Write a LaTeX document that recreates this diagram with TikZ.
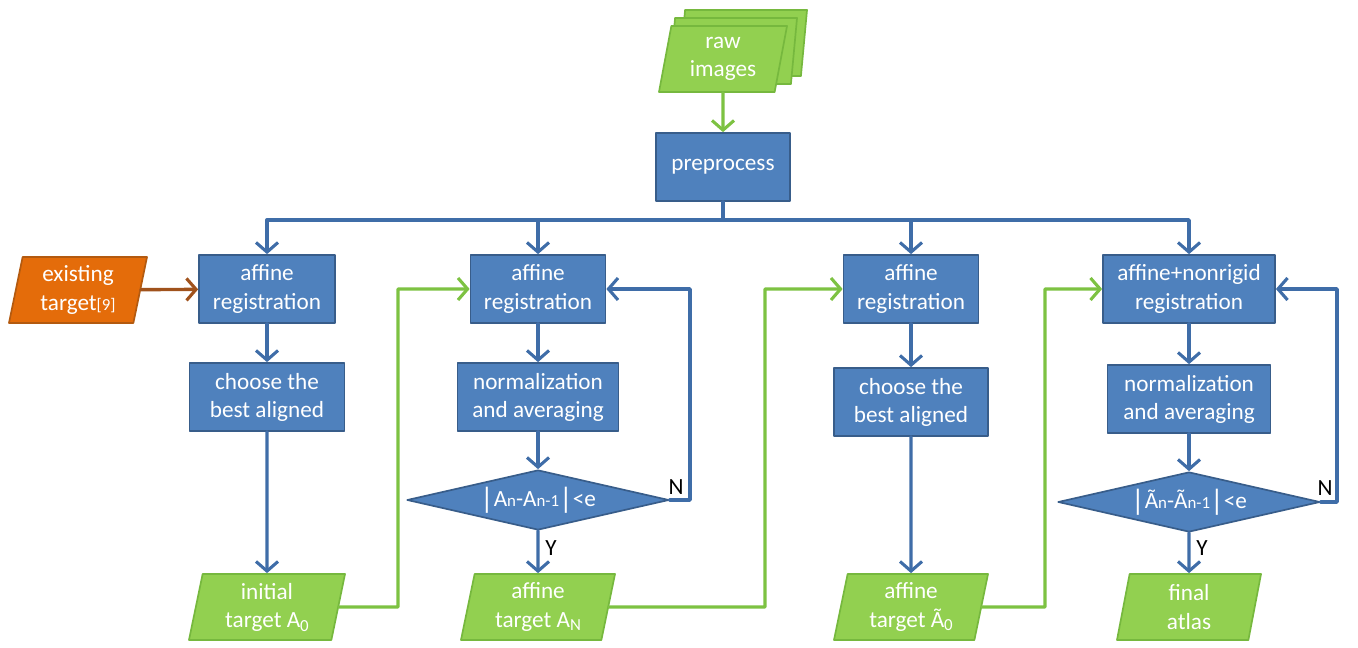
\documentclass[tikz,border=0pt]{standalone}
\usepackage{fontspec}
\setmainfont{Carlito}
\usetikzlibrary{arrows.meta,shapes.geometric}

\definecolor{boxblue}{HTML}{4F81BD}
\definecolor{boxblueline}{HTML}{385D8A}
\definecolor{linkblue}{HTML}{3F6DA8}
\definecolor{boxgreen}{HTML}{92D050}
\definecolor{boxgreenline}{HTML}{76B83E}
\definecolor{linkgreen}{HTML}{7DC242}
\definecolor{boxorange}{HTML}{E46C0A}
\definecolor{boxorangeline}{HTML}{B35A10}
\definecolor{linkbrown}{HTML}{A0521C}

\newcommand{\smallsub}[1]{{\fontsize{12pt}{12pt}\selectfont #1}}
\newcommand{\lowsub}[1]{\raisebox{-0.35ex}{\smallsub{#1}}}
\newcommand{\tallbar}{{\fontsize{21pt}{21pt}\selectfont\raisebox{-0.15ex}{|}}}

\tikzset{
  txt/.style={font=\fontsize{16.5pt}{20pt}\selectfont},
  proc/.style={txt, draw=boxblueline, fill=boxblue, line width=1.2pt, text=white,
    align=center, minimum height=1.7cm, inner sep=2pt},
  iobox/.style={txt, trapezium, trapezium left angle=75, trapezium right angle=105,
    trapezium stretches body, draw=boxgreenline, fill=boxgreen, line width=1.2pt,
    text=white, align=center, minimum height=1.65cm, inner sep=1pt},
  decide/.style={txt, diamond, aspect=4.4, draw=boxblueline, fill=boxblue,
    line width=1.2pt, text=white, inner sep=0pt, minimum width=6.55cm, minimum height=1.5cm},
  tip/.style={-{Straight Barb[length=2.4mm,width=5.5mm,line width=2.2pt]}},
  bluelink/.style={draw=linkblue, line width=2.4pt, tip},
  greenlink/.style={draw=linkgreen, line width=2.4pt, tip},
  brownlink/.style={draw=linkbrown, line width=2.4pt, tip},
  ynlabel/.style={txt, text=black, inner sep=0pt}
}

\begin{document}
\begin{tikzpicture}[line cap=round,line join=round,x=0.025cm,y=-0.025cm]
\useasboundingbox (0,0) rectangle (1358,648);

% stack of raw images
\node[iobox, minimum width=3.2cm] (raw3) at (743,43) {\phantom{images}};
\node[iobox, minimum width=3.2cm] (raw2) at (733,51) {\phantom{images}};
\node[iobox, minimum width=3.2cm] (raw) at (723,59) {raw\\images};

\node[proc, minimum width=3.35cm] (pre) at (723,167) {preprocess};

% column 1
\node[iobox, fill=boxorange, draw=boxorangeline, minimum width=3.45cm] (exist) at (78,290) {existing\\target\smallsub{[9]}};
\node[proc, minimum width=3.4cm] (reg1) at (267,289) {affine\\registration};
\node[proc, minimum width=3.875cm] (choose1) at (267,397) {choose the\\best aligned};
\node[iobox, minimum width=3.9cm] (init) at (267,607) {initial\\target A\lowsub{0}};

% column 2
\node[proc, minimum width=3.375cm] (reg2) at (538,289) {affine\\registration};
\node[proc, minimum width=4.025cm] (norm2) at (538,397) {normalization\\and averaging};
\node[decide] (dia2) at (538,500) {\tallbar A\smallsub{n}-A\smallsub{n-1}\tallbar<e};
\node[iobox, minimum width=3.85cm] (tgtN) at (538,607) {affine\\target A\lowsub{N}};

% column 3
\node[proc, minimum width=3.375cm] (reg3) at (911,289) {affine\\registration};
\node[proc, minimum width=3.85cm] (choose3) at (911,402) {choose the\\best aligned};
\node[iobox, minimum width=3.85cm] (tgt3) at (911,607) {affine\\target Ã\lowsub{0}};

% column 4
\node[proc, minimum width=4.3cm] (reg4) at (1189,289) {affine+nonrigid\\registration};
\node[proc, minimum width=4.075cm] (norm4) at (1189,399) {normalization\\and averaging};
\node[decide] (dia4) at (1189,502) {\tallbar Ã\smallsub{n}-Ã\smallsub{n-1}\tallbar<e};
\node[iobox, minimum width=3.6cm] (final) at (1189,607) {final\\atlas};

% labels
\node[ynlabel] (n2) at (676,487) {N};
\node[ynlabel] (y2) at (551,548) {Y};
\node[ynlabel] (n4) at (1325,488) {N};
\node[ynlabel] (y4) at (1202,548) {Y};

% helper points
\coordinate (bus) at (723,220);
\coordinate (loop2) at (690,500);
\coordinate (loop4) at (1337,502);
\coordinate (g1) at (398,607);
\coordinate (g2) at (765,607);
\coordinate (g3) at (1045,607);

% connectors
\draw[greenlink] (raw) -- (pre);
\draw[draw=linkblue, line width=2.4pt] (pre) -- (bus);
\draw[bluelink] (bus) -| (reg1.north);
\draw[bluelink] (bus) -| (reg2.north);
\draw[bluelink] (bus) -| (reg3.north);
\draw[bluelink] (bus) -| (reg4.north);
\draw[brownlink] (exist) -- (reg1);
\draw[bluelink] (reg1) -- (choose1);
\draw[bluelink] (choose1) -- (init);
\draw[greenlink] (init.east) -- (g1) |- (reg2.west);
\draw[bluelink] (reg2) -- (norm2);
\draw[bluelink] (norm2) -- (dia2);
\draw[bluelink] (dia2) -- (tgtN);
\draw[bluelink] (dia2.east) -- (loop2) |- (reg2.east);
\draw[greenlink] (tgtN.east) -- (g2) |- (reg3.west);
\draw[bluelink] (reg3) -- (choose3);
\draw[bluelink] (choose3) -- (tgt3);
\draw[greenlink] (tgt3.east) -- (g3) |- (reg4.west);
\draw[bluelink] (reg4) -- (norm4);
\draw[bluelink] (norm4) -- (dia4);
\draw[bluelink] (dia4) -- (final);
\draw[bluelink] (dia4.east) -- (loop4) |- (reg4.east);
\end{tikzpicture}
\end{document}
